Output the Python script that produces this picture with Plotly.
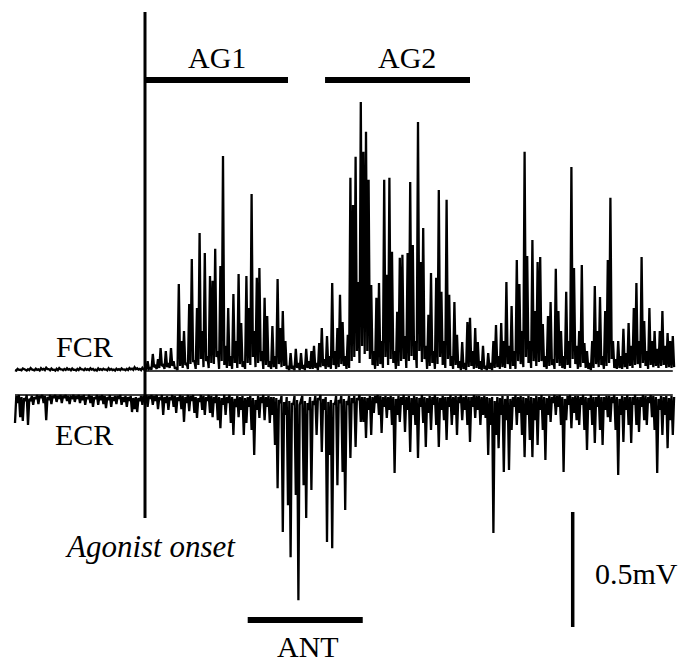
import plotly.graph_objects as go

# ---------------- data (time in ms from agonist onset, amplitude in microvolts) ----------------
SAMPLE_MS = 4          # spacing of the local extrema listed below
T_START = -200

# FCR: rectified EMG - local maxima every 4 ms ...
fcr_pre = [4, 9, 6, 11, 5, 8, 13, 6, 10, 7, 12, 9, 14, 8, 11, 6, 10, 13, 7, 9,
           12, 8, 11, 6, 9, 13, 7, 10, 8, 12, 9, 6, 11, 8, 10, 7, 12, 9, 6, 10,
           8, 11, 7, 9, 13, 10, 16, 12, 9, 14]
fcr_post = [9, 43, 13, 74, 22, 52, 100, 26, 87, 35, 100, 43, 17, 378, 130, 174, 35, 291, 487, 43,
            274, 600, 174, 513, 65, 413, 392, 531, 87, 457, 935, 109, 274, 65, 335, 130, 422, 209, 43, 413,
            274, 770, 174, 405, 448, 87, 318, 239, 43, 196, 65, 400, 187, 261, 130, 22, 78, 22, 96, 35,
            78, 26, 96, 43, 87, 109, 35, 122, 187, 52, 152, 65, 383, 87, 187, 331, 213, 65, 157, 840,
            722, 931, 387, 1170, 953, 1040, 831, 374, 87, 318, 383, 130, 831, 418, 840, 518, 87, 257, 492, 505,
            152, 513, 822, 548, 130, 1083, 474, 622, 109, 244, 426, 87, 405, 787, 344, 130, 744, 331, 65, 300,
            157, 43, 126, 35, 213, 231, 87, 187, 126, 43, 109, 22, 78, 35, 130, 200, 65, 209, 130, 387,
            109, 283, 87, 483, 378, 174, 953, 500, 130, 570, 261, 474, 496, 204, 65, 239, 300, 52, 444, 261,
            174, 65, 344, 130, 887, 448, 109, 174, 461, 122, 87, 35, 130, 370, 174, 322, 65, 261, 483, 753,
            130, 52, 130, 65, 183, 78, 209, 109, 274, 383, 130, 496, 217, 87, 274, 130, 174, 96, 174, 261,
            109, 165, 130, 152]
# ... and the minima reached between consecutive maxima
fcr_min_pre = [2, 5, 3, 6, 2, 4, 7, 3, 5, 2, 6, 4, 8, 3, 5, 2, 4, 7, 3, 5,
               6, 3, 5, 2, 4, 7, 3, 5, 4, 6, 3, 2, 5, 4, 6, 3, 5, 4, 2, 5,
               4, 6, 3, 4, 7, 5, 8, 6, 4, 7]
fcr_min_post = [4, 9, 6, 17, 9, 13, 22, 9, 17, 13, 22, 9, 4, 22, 13, 26, 9, 30, 43, 9,
                26, 52, 17, 43, 13, 35, 30, 61, 9, 43, 26, 13, 22, 9, 35, 13, 30, 17, 9, 35,
                26, 61, 17, 35, 43, 9, 26, 17, 9, 17, 9, 30, 17, 22, 9, 4, 9, 4, 13, 4,
                9, 4, 13, 9, 9, 13, 4, 17, 22, 9, 17, 9, 26, 9, 17, 30, 22, 9, 13, 43,
                61, 87, 35, 109, 74, 87, 52, 26, 9, 22, 30, 13, 61, 26, 52, 35, 9, 22, 43, 52,
                13, 43, 65, 48, 13, 87, 39, 52, 9, 22, 35, 9, 30, 61, 26, 13, 52, 22, 9, 26,
                13, 4, 9, 4, 17, 22, 9, 13, 9, 4, 9, 4, 9, 4, 13, 17, 9, 17, 13, 30,
                9, 22, 9, 43, 30, 17, 61, 35, 13, 43, 22, 39, 43, 17, 9, 22, 26, 9, 35, 22,
                13, 9, 26, 13, 52, 30, 9, 17, 35, 13, 9, 4, 13, 30, 17, 26, 9, 22, 35, 52,
                13, 9, 13, 9, 17, 9, 22, 13, 26, 30, 13, 35, 22, 9, 26, 17, 22, 13, 22, 26,
                13, 17, 13, 17]

# ECR: antagonist EMG drawn downward - depth of each deflection every 4 ms ...
ecr_depth = [122, 35, 96, 113, 26, 130, 22, 43, 17, 39, 13, 35, 109, 22, 39, 13, 30, 17, 35, 13,
             26, 39, 13, 30, 17, 35, 22, 43, 17, 35, 52, 17, 43, 22, 39, 57, 22, 52, 26, 39,
             17, 43, 30, 52, 26, 74, 61, 74, 26, 43,
             22, 52, 17, 43, 26, 61, 22, 87, 35, 65, 22, 52, 78, 26, 61, 117, 35, 70, 26, 78,
             100, 30, 65, 87, 26, 78, 96, 35, 109, 144, 43, 87, 35, 122, 174, 52, 96, 65, 174, 122,
             52, 152, 261, 65, 100, 35, 109, 52, 122, 87, 217, 405, 35, 596, 87, 479, 705, 43, 435, 892,
             22, 392, 535, 65, 413, 43, 174, 22, 248, 65, 639, 261, 666, 43, 392, 35, 335, 500, 43, 274,
             35, 226, 22, 117, 117, 187, 65, 174, 78, 35, 87, 165, 52, 100, 65, 130, 339, 87, 117, 43,
             161, 65, 248, 87, 130, 274, 52, 122, 226, 78, 152, 43, 130, 226, 65, 109, 196, 52, 130, 87,
             174, 35, 109, 65, 130, 204, 52, 100, 65, 130, 87, 100, 261, 130, 600, 174, 231, 87, 335, 109,
             326, 152, 52, 130, 78, 174, 270, 87, 196, 270, 109, 217, 65, 152, 283, 87, 117, 35, 87, 52,
             130, 335, 109, 43, 144, 78, 109, 130, 43, 152, 239, 65, 130, 209, 52, 152, 217, 65, 96, 117,
             35, 152, 348, 87, 204, 65, 130, 209, 43, 130, 161, 52, 109, 130, 35, 96, 152, 339, 65, 174,
             87, 231, 109, 174]
# ... and the return towards the baseline between deflections
ecr_top = [4, 0, 9, 13, 0, 17, 4, 9, 0, 4, 0, 4, 9, 0, 4, 0, 4, 0, 4, 0,
           4, 9, 0, 4, 0, 4, 0, 9, 0, 4, 9, 0, 4, 0, 4, 9, 0, 9, 4, 4,
           0, 9, 4, 9, 4, 13, 9, 13, 4, 4,
           0, 4, 0, 4, 0, 9, 0, 9, 4, 9, 0, 4, 9, 0, 4, 9, 0, 4, 0, 9,
           13, 0, 4, 9, 0, 4, 9, 0, 9, 13, 0, 9, 0, 9, 17, 4, 9, 4, 13, 9,
           4, 13, 22, 4, 9, 0, 9, 4, 9, 9, 13, 22, 4, 30, 9, 26, 35, 4, 22, 43,
           4, 26, 35, 9, 26, 4, 13, 0, 17, 9, 30, 22, 35, 4, 22, 4, 17, 26, 4, 13,
           4, 13, 0, 9, 9, 13, 4, 9, 4, 0, 4, 9, 4, 9, 4, 9, 17, 4, 9, 0,
           9, 4, 13, 4, 9, 13, 0, 9, 13, 4, 9, 0, 9, 13, 4, 9, 9, 0, 9, 4,
           9, 0, 9, 4, 9, 9, 0, 4, 4, 9, 4, 9, 13, 9, 26, 9, 13, 4, 17, 4,
           17, 9, 0, 9, 4, 9, 13, 4, 9, 13, 4, 9, 0, 9, 13, 4, 9, 0, 4, 0,
           9, 17, 4, 0, 9, 4, 4, 9, 0, 9, 13, 0, 9, 9, 0, 9, 9, 4, 4, 9,
           0, 9, 17, 4, 9, 0, 9, 9, 0, 9, 9, 0, 4, 9, 0, 4, 9, 17, 4, 9,
           4, 13, 4, 9]

fcr_max = fcr_pre + fcr_post
fcr_min = fcr_min_pre + fcr_min_post


def interleave(peaks, valleys):
    t, v = [], []
    for k, (p, q) in enumerate(zip(peaks, valleys)):
        t += [T_START + SAMPLE_MS * k, T_START + SAMPLE_MS * k + SAMPLE_MS / 2]
        v += [p, q]
    return t, v


t_fcr, fcr = interleave(fcr_max, fcr_min)
t_ecr, ecr_d = interleave(ecr_depth, ecr_top)

# epoch windows (ms) and labels
windows = {"AG1": (0, 220), "AG2": (277, 500), "ANT": (158, 335)}
SCALE_UV = 500  # 0.5 mV calibration bar

# ---------------- layout constants ----------------
W, H = 680, 662
UV_PER_PX = SCALE_UV / 115.0
MS_PER_PX = 1 / 0.65
X0_PX, FCR_BASE_PX, ECR_BASE_PX = 145, 371, 395
x_range = [-X0_PX * MS_PER_PX, (W - X0_PX) * MS_PER_PX]
y_range = [-(H - FCR_BASE_PX) * UV_PER_PX, FCR_BASE_PX * UV_PER_PX]
ECR_OFFSET = -(ECR_BASE_PX - FCR_BASE_PX) * UV_PER_PX


def ypx(p):
    return (FCR_BASE_PX - p) * UV_PER_PX


ecr_y = [ECR_OFFSET - v for v in ecr_d]
t_end = T_START + SAMPLE_MS * (len(fcr_max) - 1)

fig = go.Figure()
# baselines
fig.add_trace(go.Scatter(x=[0, t_end], y=[0, 0], mode="lines",
                         line=dict(color="black", width=1.5), hoverinfo="skip"))
fig.add_trace(go.Scatter(x=[T_START, t_end], y=[ECR_OFFSET, ECR_OFFSET], mode="lines",
                         line=dict(color="black", width=1.5), hoverinfo="skip"))
# traces
fig.add_trace(go.Scatter(x=t_fcr, y=fcr, mode="lines", name="FCR",
                         line=dict(color="black", width=2.3)))
fig.add_trace(go.Scatter(x=t_ecr, y=ecr_y, mode="lines", name="ECR",
                         line=dict(color="black", width=2.3)))

shapes = []
# agonist onset line
shapes.append(dict(type="line", xref="x", yref="y", x0=0, x1=0, y0=ypx(12), y1=ypx(518),
                   line=dict(color="black", width=3)))
# epoch bars
bar_levels = {"AG1": ypx(80), "AG2": ypx(80), "ANT": ypx(620)}
for name, (a, b) in windows.items():
    shapes.append(dict(type="line", xref="x", yref="y", x0=a, x1=b,
                       y0=bar_levels[name], y1=bar_levels[name],
                       line=dict(color="black", width=6)))
# calibration bar
SCALE_T = 658
shapes.append(dict(type="line", xref="x", yref="y", x0=SCALE_T, x1=SCALE_T,
                   y0=ypx(627), y1=ypx(627) + SCALE_UV, line=dict(color="black", width=3.5)))

FONT = "Liberation Serif, Times New Roman, serif"


def ann(text, xp, yp, size=30, italic=False):
    return dict(text=f"<i>{text}</i>" if italic else text, x=xp / W, y=1 - yp / H,
                xref="paper", yref="paper", showarrow=False, xanchor="center", yanchor="middle",
                font=dict(family=FONT, size=size, color="black"))


annotations = [
    ann("AG1", 217, 57), ann("AG2", 407, 57), ann("ANT", 308, 646),
    ann("FCR", 84, 346), ann("ECR", 84, 434), ann("0.5mV", 636, 573),
    ann("Agonist onset", 150, 546, size=31, italic=True),
]

fig.update_layout(
    width=W, height=H, margin=dict(l=0, r=0, t=0, b=0),
    paper_bgcolor="white", plot_bgcolor="white", showlegend=False,
    xaxis=dict(range=x_range, visible=False, fixedrange=True),
    yaxis=dict(range=y_range, visible=False, fixedrange=True),
    shapes=shapes, annotations=annotations,
)
fig.write_html("out.html", config={"displayModeBar": False},
               post_script="document.body.style.margin='0';document.body.style.overflow='hidden';")
